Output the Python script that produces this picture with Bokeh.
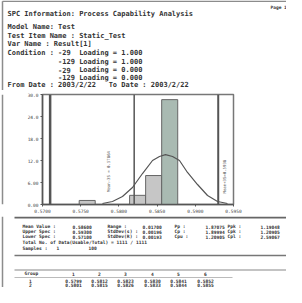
import math
from bokeh.plotting import figure
from bokeh.layouts import column, row
from bokeh.models import Range1d, FixedTicker, Label, Span
from bokeh.core.properties import value
from bokeh.embed import file_html
from bokeh.resources import INLINE

# ---------------- data ----------------
bin_centers = [0.57585, 0.58245, 0.58455, 0.58665]
bin_width = 0.0021
bin_freq = [1.1, 2.5, 7.9, 28.6]

curve_x = [0.57785, 0.57916, 0.58047, 0.58178, 0.58309, 0.58440, 0.58531, 0.58610,
           0.58702, 0.58793, 0.58898, 0.59029, 0.59160, 0.59291, 0.59421]
curve_y = [0.27, 0.82, 2.18, 4.64, 8.45, 12.0, 13.1, 13.6,
           13.1, 12.0, 8.73, 5.45, 2.45, 0.82, 0.27]

spec_lsl = 0.5710
spec_target = 0.5820
spec_usl = 0.5930
sigma_low_label = "Mean-3S = 0.57864"
sigma_high_label = "Mean+3S=0.5938"
sigma_low_x = 0.57864
sigma_high_x = 0.5938

x_ticks = [0.5700, 0.5750, 0.5800, 0.5850, 0.5900, 0.5950]
x_tick_labels = ["0.5700", "0.5750", "0.5800", "0.5850", "0.5900", "0.5950"]
y_ticks = [0, 6, 12, 18, 24, 30]
y_tick_labels = ["0.00", "6.00", "12.0", "18.0", "24.0", "30.0"]

report_title = "SPC Information: Process Capability Analysis"
page_label = "Page 1"
header_lines = [
    "Model Name: Test",
    "Test Item Name : Static_Test",
    "Var Name : Result[1]",
    "Condition : -29  Loading = 1.000",
    "            -129 Loading = 1.000",
    "            -29  Loading = 0.000",
    "            -129 Loading = 0.000",
    "From Date : 2003/2/22   To Date : 2003/2/22",
]

stats_rows = [
    ["Mean Value :", "0.58600", "Range :", "0.01700", "Pp :", "1.87075", "Ppk :", "1.19048"],
    ["Upper Spec :", "0.59300", "StdDev(s) :", "0.00196", "Cp :", "1.89994", "Cpk :", "1.20905"],
    ["Lower Spec :", "0.57100", "StdDev(R) :", "0.00193", "Cpu :", "1.20905", "Cpl :", "2.59067"],
]
total_line = "Total No. of Data(Usable/Total) = 1111 / 1111"
samples_line = ["Samples :", "1", "100"]

table_header = ["Group", "1", "2", "3", "4", "5", "6"]
table_rows = [
    ["1", "0.5799", "0.5812", "0.5823", "0.5830", "0.5841", "0.5852"],
    ["2", "0.5801", "0.5815", "0.5826", "0.5833", "0.5844", "0.5855"],
]

# ---------------- layout (reference pixel rows) ----------------
TOP, SPLIT1, SPLIT2, BOTTOM = 8, 98, 224, 295
LEFT, RIGHT = 8, 294
STRIP = 4
BORDER_C = "#8c8c8c"
MONO = "DejaVu Sans Mono"
TEXT_C = "#333333"


def page_fig(y0, y1, x0=LEFT, x1=RIGHT):
    f = figure(width=x1 - x0, height=y1 - y0, output_backend="svg", toolbar_location=None,
               x_range=Range1d(x0, x1), y_range=Range1d(y1, y0),
               x_axis_location=None, y_axis_location=None, min_border=0,
               background_fill_color="white", border_fill_color="white")
    f.grid.visible = False
    f.outline_line_color = None
    return f


def add_text(f, items, size, align="left", bold=True, color=TEXT_C):
    f.text(x=[i[1] for i in items], y=[i[2] for i in items], text=[i[0] for i in items],
           text_font=value(MONO), text_font_size=value(f"{size}px"),
           text_font_style="bold" if bold else "normal", text_align=align,
           text_baseline="middle", text_color=color)


def mono_items(s, rx, ry, size):
    cw = 0.602 * size
    out = []
    i, n = 0, len(s)
    while i < n:
        if s[i] == " ":
            i += 1
            continue
        j = i
        while j < n and not (s[j] == " " and j + 1 < n and s[j + 1] == " "):
            j += 1
        out.append((s[i:j].rstrip(), rx + i * cw, ry))
        i = j
    return out


# ---- header figure ----
A = page_fig(TOP, SPLIT1)
A.segment(x0=[10], y0=[8.8], x1=[RIGHT], y1=[8.8], line_color=BORDER_C, line_width=1.5)
A.segment(x0=[10], y0=[8.8], x1=[10], y1=[SPLIT1], line_color=BORDER_C, line_width=1.5)
items = mono_items(report_title, 15, 21, 7.0)
header_y = [34, 43, 51, 60, 69, 77, 85, 92]
for line, yy in zip(header_lines, header_y):
    items += mono_items(line, 15, yy, 7.0)
add_text(A, items, 7.0)
add_text(A, [(page_label, 278, 15)], 4.5)

# ---- left strip of the page border beside the chart ----
S = page_fig(SPLIT1, SPLIT2, LEFT, LEFT + STRIP)
S.segment(x0=[10], y0=[SPLIT1], x1=[10], y1=[SPLIT2], line_color=BORDER_C, line_width=1.5)

# ---- histogram figure ----
FX0, FX1, FY0, FY1 = 50, 241, 102, 212  # frame edges in reference pixels
B = figure(width=RIGHT - LEFT - STRIP, height=SPLIT2 - SPLIT1, output_backend="svg",
           toolbar_location=None,
           x_range=Range1d(x_ticks[0], x_ticks[-1]), y_range=Range1d(y_ticks[0], y_ticks[-1]),
           min_border_left=FX0 - LEFT - STRIP, min_border_right=RIGHT - FX1,
           min_border_top=FY0 - SPLIT1, min_border_bottom=SPLIT2 - FY1,
           background_fill_color="white", border_fill_color="white")
B.grid.visible = False
B.outline_line_color = "#777777"
B.outline_line_width = 1.5
for ax in (B.xaxis[0], B.yaxis[0]):
    ax.major_label_text_font = MONO
    ax.major_label_text_font_size = "4.5px"
    ax.major_label_text_color = "#444444"
    ax.axis_line_color = "#555555"
    ax.axis_line_width = 1.5
    ax.major_tick_line_color = "#555555"
    ax.major_tick_in = 0
    ax.major_tick_out = 2
    ax.minor_tick_line_color = None
    ax.major_label_standoff = 2
B.xaxis.ticker = FixedTicker(ticks=x_ticks)
B.xaxis.major_label_overrides = {t: l for t, l in zip(x_ticks, x_tick_labels)}
B.yaxis.ticker = FixedTicker(ticks=y_ticks)
B.yaxis.major_label_overrides = {t: l for t, l in zip(y_ticks, y_tick_labels)}

bar_colors = ["#a9bab2" if f == max(bin_freq) else "#c6c6c6" for f in bin_freq]
B.vbar(x=bin_centers, width=bin_width, top=bin_freq, bottom=0,
       fill_color=bar_colors, line_color="#666666", line_width=1)
B.line(curve_x, curve_y, line_color="#555555", line_width=1.2)

B.add_layout(Span(location=spec_lsl, dimension="height", line_color="#555555", line_width=2.5))
B.add_layout(Span(location=spec_target, dimension="height", line_color="#555555", line_width=1.5))
B.add_layout(Span(location=spec_usl, dimension="height", line_color="#555555", line_width=2))
B.add_layout(Label(x=sigma_low_x, y=9.0, text=sigma_low_label, angle=math.pi / 2,
                   text_align="center", text_baseline="middle", text_font=MONO,
                   text_font_size="4px", text_color="#555555"))
B.add_layout(Label(x=sigma_high_x, y=7.6, text=sigma_high_label, angle=math.pi / 2,
                   text_align="center", text_baseline="middle", text_font=MONO,
                   text_font_size="4px", text_color="#555555"))

# ---- footer figure: statistics and table ----
C = page_fig(SPLIT2, BOTTOM)
C.segment(x0=[10], y0=[SPLIT2], x1=[10], y1=[BOTTOM], line_color=BORDER_C, line_width=1.5)
rule_y = [225, 263, 277.5, 285]
rule_x1 = [RIGHT, RIGHT, RIGHT, 240]
rule_w = [2, 1.5, 1.2, 0.8]
rule_c = ["#666666", "#777777", "#888888", "#aaaaaa"]
for yy, x1, w, c in zip(rule_y, rule_x1, rule_w, rule_c):
    C.segment(x0=[22], y0=[yy], x1=[x1], y1=[yy], line_color=c, line_width=w)

stat_x = [30, 80, 115, 150, 182, 213, 235, 268]
stat_y = [234, 239, 244]
items = []
for r, yy in zip(stats_rows, stat_y):
    for s, xx in zip(r, stat_x):
        items.append((s, xx, yy))
items.append((total_line, 30, 249.5))
for s, xx in zip(samples_line, [30, 64, 96]):
    items.append((s, xx, 255.5))
items.append((table_header[0], 32, 281.3))
add_text(C, items, 4.6)

col_x = [81, 107, 133, 160, 186, 213]
items = [(s, xx, 281.3) for s, xx in zip(table_header[1:], col_x)]
for r, yy in zip(table_rows, [288.4, 292.6]):
    items.append((r[0], 38, yy))
    items += [(s, xx, yy) for s, xx in zip(r[1:], col_x)]
add_text(C, items, 4.6, align="center")

layout = column(A, row(S, B), C)
open("out.html", "w").write(file_html(layout, INLINE))
